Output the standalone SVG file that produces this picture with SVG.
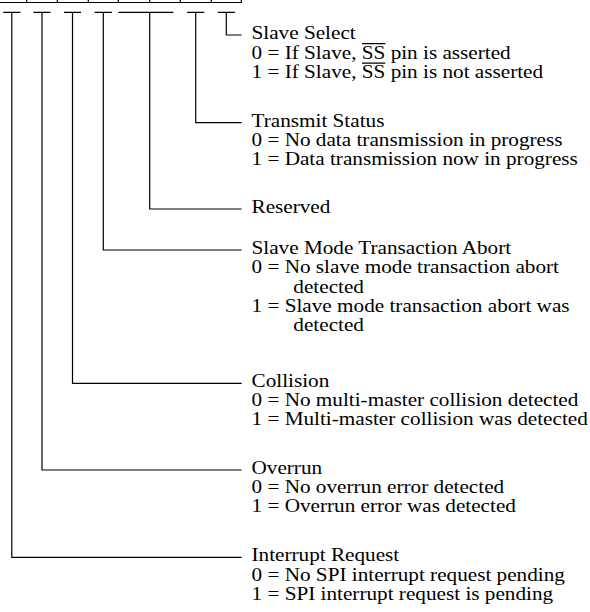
<svg xmlns="http://www.w3.org/2000/svg" width="590" height="612" viewBox="0 0 590 612">
  <style>
    .ln { stroke: #000; stroke-width: 1.2; fill: none; stroke-linecap: square; }
    .ov { stroke: #000; stroke-width: 1.1; fill: none; }
    .t { font-family: "Liberation Serif", "Times New Roman", serif; font-size: 19px; fill: #000; }
  </style>
  <rect width="590" height="612" fill="#fff"/>
  <g id="register">
    <path class="ln" d="M0 2.5 H241.3 M26.7 0 V2.5 M57.3 0 V2.5 M88.3 0 V2.5 M118.3 0 V2.5 M149.7 0 V2.5 M180.3 0 V2.5 M211.3 0 V2.5 M241.3 0 V2.5"/>
  </g>
  <g id="connectors">
    <path class="ln" d="M218.3 12.3 H234.3 M226.3 12.3 V35 H241"/>
    <path class="ln" d="M187.7 12.3 H203.7 M195.7 12.3 V122.7 H241"/>
    <path class="ln" d="M119 12.3 H172.7 M149.7 12.3 V209 H241"/>
    <path class="ln" d="M95.3 12.3 H111.3 M103.3 12.3 V250 H241"/>
    <path class="ln" d="M64.5 12.3 H80.5 M72.5 12.3 V383.3 H241"/>
    <path class="ln" d="M34 12.3 H50 M42 12.3 V470 H241"/>
    <path class="ln" d="M3.8 12.3 H19.8 M11.8 12.3 V557.3 H241"/>
  </g>
  <g id="slave-select">
    <g class="t" transform="translate(251.5,0) scale(1.116,1)">
      <text x="0" y="39.3">Slave Select</text>
      <text x="0" y="58.8">0 = If Slave, SS pin is asserted</text>
      <text x="0" y="78.3">1 = If Slave, SS pin is not asserted</text>
    </g>
    <path class="ov" d="M362 43.6 H385.3 M362 63.1 H385.3"/>
  </g>
  <g id="transmit-status" class="t" transform="translate(251.5,0) scale(1.116,1)">
    <text x="0" y="127">Transmit Status</text>
    <text x="0" y="146.2">0 = No data transmission in progress</text>
    <text x="0" y="165.4">1 = Data transmission now in progress</text>
  </g>
  <g id="reserved" class="t" transform="translate(251.5,0) scale(1.116,1)">
    <text x="0" y="213.3">Reserved</text>
  </g>
  <g id="slave-mode-abort" class="t" transform="translate(251.5,0) scale(1.116,1)">
    <text x="0" y="254.3">Slave Mode Transaction Abort</text>
    <text x="0" y="273.5">0 = No slave mode transaction abort</text>
    <text x="37.5" y="292.8">detected</text>
    <text x="0" y="312.1">1 = Slave mode transaction abort was</text>
    <text x="37.5" y="331.4">detected</text>
  </g>
  <g id="collision" class="t" transform="translate(251.5,0) scale(1.116,1)">
    <text x="0" y="387.2">Collision</text>
    <text x="0" y="406.2">0 = No multi-master collision detected</text>
    <text x="0" y="425.2">1 = Multi-master collision was detected</text>
  </g>
  <g id="overrun" class="t" transform="translate(251.5,0) scale(1.116,1)">
    <text x="0" y="473.8">Overrun</text>
    <text x="0" y="492.8">0 = No overrun error detected</text>
    <text x="0" y="511.8">1 = Overrun error was detected</text>
  </g>
  <g id="interrupt-request" class="t" transform="translate(251.5,0) scale(1.116,1)">
    <text x="0" y="561.5">Interrupt Request</text>
    <text x="0" y="580.7">0 = No SPI interrupt request pending</text>
    <text x="0" y="599.9">1 = SPI interrupt request is pending</text>
  </g>
</svg>
